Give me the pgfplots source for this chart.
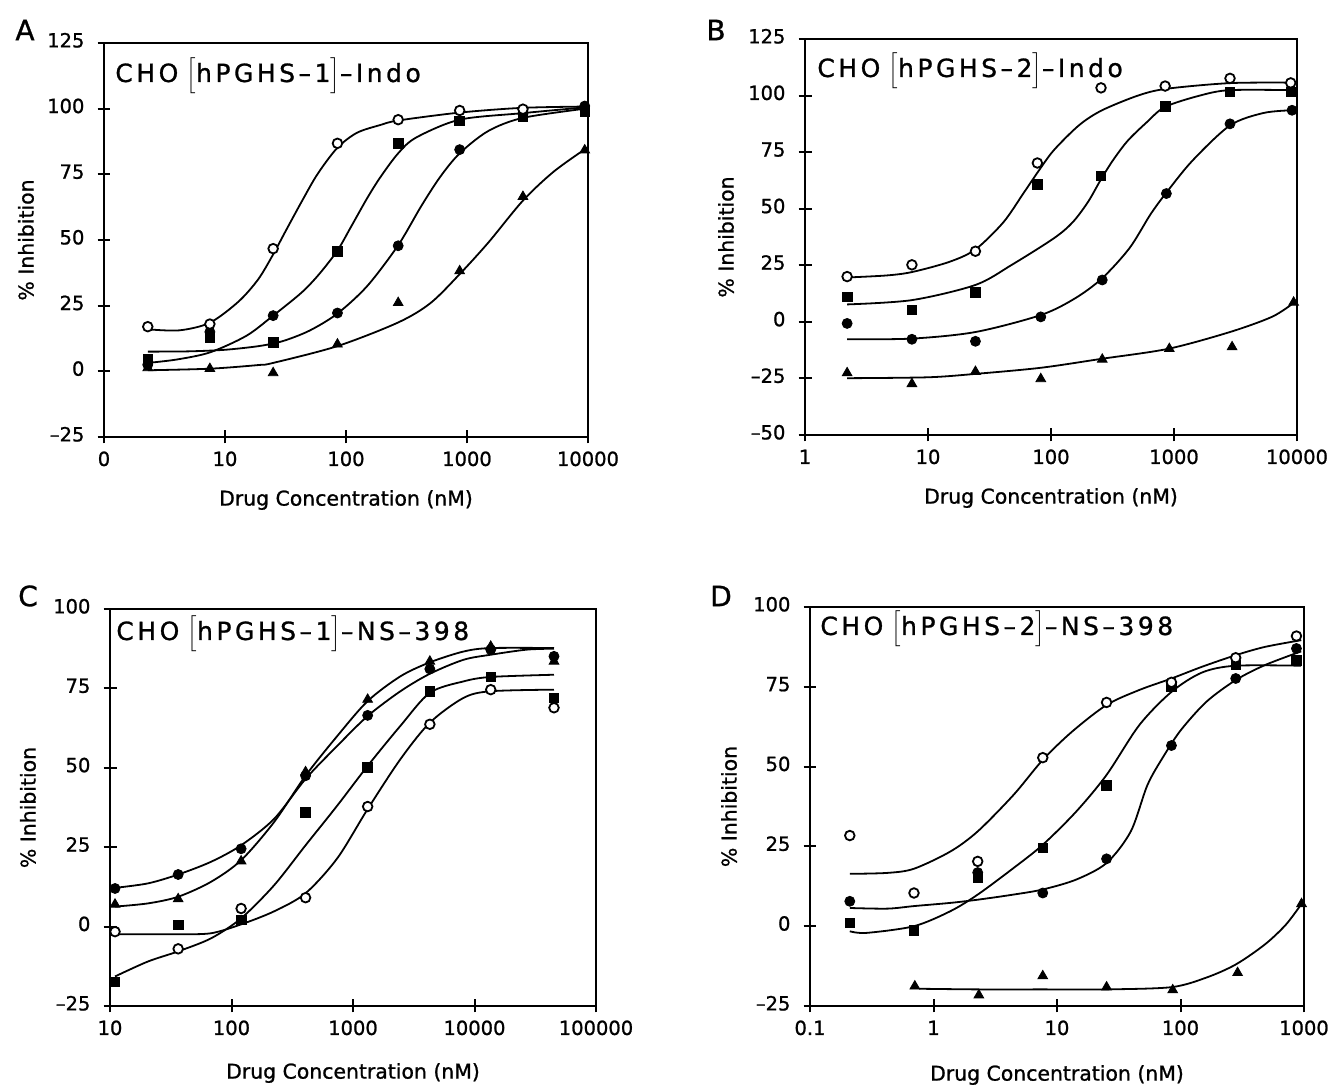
\documentclass[border=0pt]{standalone}
\usepackage{fontspec}
\setmainfont{DejaVu Sans}[FakeBold=1]
\newfontfamily\titlefont{DejaVu Sans}[LetterSpace=14, FakeBold=1, Ligatures=TeX]
\usepackage{pgfplots}
\pgfplotsset{compat=1.18}
\pgfplotsset{
  dosepanel/.style={
    scale only axis, clip=false,
    axis line style={line width=1.3pt},
    every tick/.style={black, line width=1pt},
    tick align=center, major tick length=6.5pt,
    xtick pos=bottom, ytick pos=left,
    xminorticks=false, yminorticks=false,
    typeset ticklabels with strut,
    tick label style={font=\fontsize{9.75}{11}\selectfont},
    yticklabel style={xshift=-3pt},
    every axis label/.append style={font=\fontsize{10.2}{12}\selectfont},
    xlabel={Drug Concentration (nM)},
    ylabel={\% Inhibition},
  },
  oc/.style={only marks, mark=*, mark size=2.4pt, mark options={fill=white, draw=black, line width=0.9pt}},
  fc/.style={only marks, mark=*, mark size=2.5pt, mark options={fill=black, draw=black}},
  sq/.style={only marks, mark=square*, mark size=2.4pt, mark options={fill=black, draw=black}},
  tr/.style={only marks, mark=triangle*, mark size=2.8pt, mark options={fill=black, draw=black}},
  cv/.style={no markers, smooth, tension=0.5, line width=0.9pt, black},
}
\tikzset{ttlnode/.style={anchor=base west, inner sep=0pt, font=\fontsize{12.5}{14}\selectfont\titlefont}}
\begin{document}
\begin{tikzpicture}
\path[use as bounding box] (0pt,0pt) rectangle (666.5pt,542.5pt);
\node[font=\fontsize{14}{16}\selectfont] at (12.5pt,527.5pt) {A};
\node[font=\fontsize{14}{16}\selectfont] at (358pt,527.5pt) {B};
\node[font=\fontsize{14}{16}\selectfont] at (14pt,244.5pt) {C};
\node[font=\fontsize{14}{16}\selectfont] at (360.5pt,244.5pt) {D};

% ---------------- Panel A ----------------
\begin{axis}[xmode=log, dosepanel, at={(52pt,324pt)}, anchor=south west, width=242pt, height=197pt,
  xmin=1, xmax=10000, ymin=-25, ymax=125,
  xtick={1,10,100,1000,10000}, xticklabels={0,10,100,1000,10000},
  ytick={-25,0,25,50,75,100,125}, yticklabels={--25,0,25,50,75,100,125},
  xlabel style={at={(axis description cs:0.5,0)}, anchor=center, yshift=-31.5pt},
  ylabel style={at={(axis description cs:0,0.5)}, anchor=center, yshift=39pt}]
\addplot[cv] coordinates {(2.3,16) (4.2,15.6) (7.5,18.5) (12.9,26.5) (18.8,35) (25,44.5) (31.8,53.5) (42.9,64.5) (58,75) (84.5,85) (123,90.8) (193,93.8) (271,95.5) (869,98.5) (2850,100.3) (9500,100.8)};
\addplot[cv] coordinates {(2.3,3.2) (4,4.5) (7.5,7.2) (15,13.5) (25,21.2) (43,30) (60,37) (85,46) (110,55) (150,66) (193,74) (270,83) (380,89) (870,95.8) (2900,98.3) (9500,100.5)};
\addplot[cv] coordinates {(2.3,7.5) (5,7.6) (10,8.2) (19,9.6) (30,11.5) (50,15.5) (85,22) (150,32.5) (270,48) (420,63) (600,74) (870,83) (1500,91.5) (2900,96.5) (9500,100)};
\addplot[cv] coordinates {(2.3,0.4) (7.5,1) (19,2.4) (25,3.2) (85,9.6) (270,18.6) (500,26) (870,37) (1500,49) (2900,65) (5200,76) (9400,84.5)};
\addplot[tr] coordinates {(2.3,1.3) (7.5,1.0) (25,-0.6) (85,10.3) (270,26.1) (870,38.2) (2900,66.5) (9400,84.2)};
\addplot[fc] coordinates {(2.3,2.5) (7.5,15) (25,21.2) (85,22.2) (270,47.8) (870,84.4) (2900,98) (9400,101)};
\addplot[sq] coordinates {(2.3,4.5) (7.5,12.9) (25,10.9) (85,45.6) (270,86.8) (870,95.3) (2900,97) (9400,99)};
\addplot[oc] coordinates {(2.3,17) (7.5,18) (25,46.7) (85,86.8) (270,95.8) (870,99.3) (2900,99.8)};
\node[ttlnode, xshift=5.5pt, yshift=-19.5pt] at (rel axis cs:0,1) {CHO\,\,$\Big[$hPGHS–1$\Big]$–Indo};
\end{axis}

% ---------------- Panel B ----------------
\begin{axis}[xmode=log, dosepanel, at={(402.5pt,325pt)}, anchor=south west, width=246pt, height=198pt,
  xmin=1, xmax=10000, ymin=-50, ymax=125,
  xtick={1,10,100,1000,10000}, xticklabels={1,10,100,1000,10000},
  ytick={-50,-25,0,25,50,75,100,125}, yticklabels={--50,--25,0,25,50,75,100,125},
  xlabel style={at={(axis description cs:0.5,0)}, anchor=center, yshift=-31.5pt},
  ylabel style={at={(axis description cs:0,0.5)}, anchor=center, yshift=39.5pt}]
\addplot[cv] coordinates {(2.2,19.6) (4.6,20.5) (7.4,22) (14.9,26.5) (24.3,32) (41,44) (60,57) (80,67) (106,76) (170,87) (260,93.5) (510,100) (870,103) (2850,105.5) (9300,105.7)};
\addplot[cv] coordinates {(2.2,7.7) (7.4,9.6) (24.3,16.3) (48,25.2) (106,37) (150,44) (200,53) (255,63) (320,71.5) (420,80) (595,88) (847,95) (1650,100.1) (2850,102.4) (9000,102.4)};
\addplot[cv] coordinates {(2.2,-7.7) (7.4,-7.4) (24.3,-4.5) (82.6,3) (157,10.4) (261,19.3) (435,32.6) (644,47.5) (867,57.1) (1410,71.2) (2853,86.8) (5340,92.3) (9110,93.5)};
\addplot[cv] coordinates {(2.2,-24.9) (10,-24.5) (24.3,-23) (82.6,-20.3) (261,-16.3) (900,-11.9) (2850,-4.5) (6250,2.2) (9300,8.2)};
\addplot[tr] coordinates {(2.2,-22.6) (7.4,-27.4) (24.3,-22) (82.6,-25.2) (261,-16.6) (916,-11.9) (2966,-11.1) (9390,8.6)};
\addplot[fc] coordinates {(2.2,-0.7) (7.4,-7.7) (24.3,-8.6) (82.6,2.2) (261,18.5) (867,56.7) (2853,87.5) (9110,93.5)};
\addplot[sq] coordinates {(2.2,11.1) (7.4,5.2) (24.3,12.9) (77.5,60.8) (255,64.5) (847,95.3) (2853,101.6) (8890,101.6)};
\addplot[oc] coordinates {(2.2,20) (7.4,25.2) (24.3,31.2) (77.5,70.2) (255,103.4) (847,104.2) (2853,107.6) (8890,105.6)};
\node[ttlnode, xshift=6pt, yshift=-19pt] at (rel axis cs:0,1) {CHO\,\,$\Big[$hPGHS–2$\Big]$–Indo};
\end{axis}

% ---------------- Panel C ----------------
\begin{axis}[xmode=log, dosepanel, at={(55pt,39.5pt)}, anchor=south west, width=243pt, height=198.5pt,
  xmin=10, xmax=100000, ymin=-25, ymax=100,
  xtick={10,100,1000,10000,100000}, xticklabels={10,100,1000,10000,100000},
  ytick={-25,0,25,50,75,100}, yticklabels={--25,0,25,50,75,100},
  xlabel style={at={(axis description cs:0.5,0)}, anchor=center, yshift=-33.5pt},
  ylabel style={at={(axis description cs:0,0.5)}, anchor=center, yshift=41pt}]
\addplot[cv] coordinates {(11,12.2) (20.5,13.6) (36.4,16.4) (67.8,20.4) (120,25.6) (224,33.9) (407,46.5) (742,56.9) (1320,66.3) (2455,74.1) (4290,79.6) (8110,84) (13600,85.6) (26900,87.2) (45100,87.5)};
\addplot[cv] coordinates {(11,6.3) (20.5,7.3) (36.4,9.4) (67.8,14.1) (120,20.9) (224,32.9) (407,47.5) (742,60) (1320,71) (2455,78.8) (4290,83.2) (8110,86.6) (13600,87.7) (45100,87.7)};
\addplot[cv] coordinates {(11,-15.7) (20.5,-11) (36.4,-7.8) (67.8,-3.7) (120,2.6) (224,13) (407,25.6) (742,38.1) (1320,50.6) (2455,63.2) (4290,73.6) (8110,77.2) (13600,78.6) (45100,79.3)};
\addplot[cv] coordinates {(11,-2.4) (20.5,-2.4) (36.4,-2.4) (67.8,-2.1) (120,0.7) (224,4.8) (407,10.5) (742,21.5) (1320,37) (2455,52.7) (4290,64.2) (8110,72) (13600,74.1) (45100,74.6)};
\addplot[tr] coordinates {(11,7) (36.4,8.7) (120,20.6) (407,48.7) (1320,71.5) (4290,83.5) (13600,88.2) (45100,83.5)};
\addplot[fc] coordinates {(11,12) (36.4,16.4) (120,24.5) (407,47.5) (1320,66.5) (4290,81.1) (13600,87.2) (45100,85.1)};
\addplot[sq] coordinates {(11,-17.4) (36.4,0.5) (120,2.1) (407,36) (1320,50.1) (4290,74.1) (13600,78.6) (45100,72)};
\addplot[oc] coordinates {(11,-1.6) (36.4,-7) (120,5.7) (407,9.1) (1320,37.8) (4290,63.7) (13600,74.6) (45100,68.9)};
\node[ttlnode, xshift=3pt, yshift=-15.5pt] at (rel axis cs:0,1) {CHO\,\,$\Big[$hPGHS–1$\Big]$–NS–398};
\end{axis}

% ---------------- Panel D ----------------
\begin{axis}[xmode=log, dosepanel, at={(405pt,39.5pt)}, anchor=south west, width=247pt, height=199.5pt,
  xmin=0.1, xmax=1000, ymin=-25, ymax=100,
  xtick={0.1,1,10,100,1000}, xticklabels={0.1,1,10,100,1000},
  ytick={-25,0,25,50,75,100}, yticklabels={--25,0,25,50,75,100},
  xlabel style={at={(axis description cs:0.5,0)}, anchor=center, yshift=-34.5pt},
  ylabel style={at={(axis description cs:0,0.5)}, anchor=center, yshift=40.5pt}]
\addplot[cv] coordinates {(0.21,16.4) (0.425,16.7) (0.695,18) (1.37,23.4) (2.28,29.7) (4.44,41.1) (7.67,52.1) (13.2,60.9) (25.2,69.3) (46.4,74) (84.5,77.6) (150,81.3) (280,84.9) (483,87.5) (950,89.6)};
\addplot[cv] coordinates {(0.21,-1.6) (0.287,-2.1) (0.695,0) (1.37,4.7) (2.28,9.9) (4.44,18.2) (7.67,25.5) (14.3,35.9) (25.2,47.4) (46.4,63) (84.5,73.4) (150,79.5) (280,81.6) (950,81.6)};
\addplot[cv] coordinates {(0.21,5.7) (0.425,5.5) (0.695,6.3) (1.37,7.3) (2.28,8.3) (4.44,9.9) (7.67,11.5) (14.3,14.6) (25.2,19.8) (39.6,29.7) (54.1,44.3) (73.9,53.6) (101,61.5) (162,70.3) (280,77.1) (483,81.8) (950,86.1)};
\addplot[cv] coordinates {(0.764,-19.6) (2.28,-19.8) (7.67,-19.8) (25.2,-19.8) (84.5,-19.1) (162,-16.1) (280,-12) (483,-5.7) (714,0.5) (955,7)};
\addplot[tr] coordinates {(0.706,-18.8) (2.33,-21.6) (7.67,-15.6) (25.2,-19.1) (86.5,-20) (290,-14.6) (955,7)};
\addplot[fc] coordinates {(0.21,7.8) (2.28,16.8) (7.67,10.4) (25.2,21.1) (84.5,56.6) (280,77.6) (869,87)};
\addplot[sq] coordinates {(0.21,1) (0.695,-1.4) (2.28,15.1) (7.67,24.5) (25.2,44.1) (84.5,75) (280,81.8) (869,83.3)};
\addplot[oc] coordinates {(0.21,28.4) (0.695,10.4) (2.28,20.3) (7.67,52.8) (25.2,70.1) (84.5,76.4) (280,84.1) (869,90.9)};
\node[ttlnode, xshift=5pt, yshift=-14pt] at (rel axis cs:0,1) {CHO\,\,$\Big[$hPGHS–2$\Big]$–NS–398};
\end{axis}
\end{tikzpicture}
\end{document}
